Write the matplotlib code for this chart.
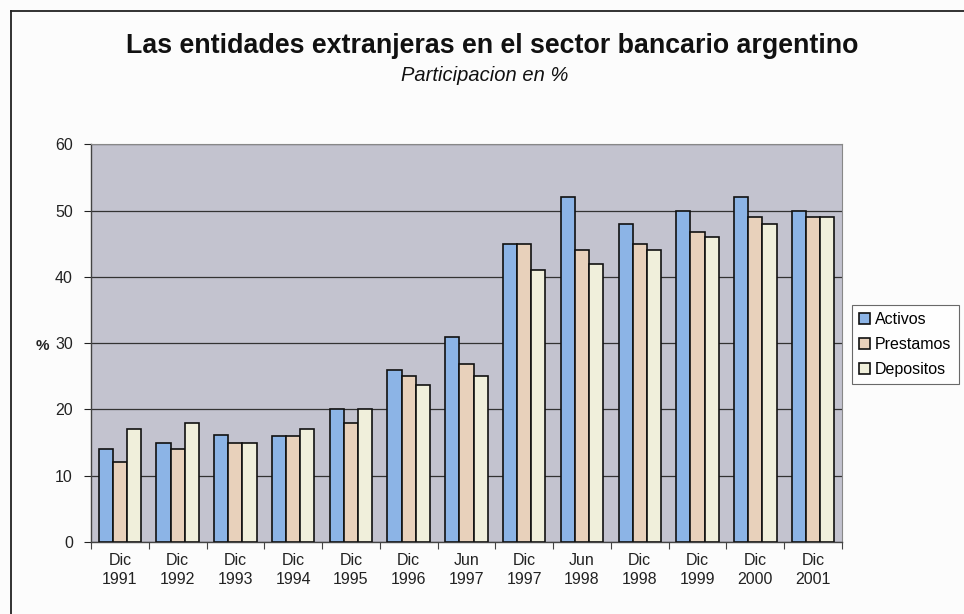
import numpy as np
import matplotlib.pyplot as plt
from matplotlib.lines import Line2D

# Participacion de las entidades extranjeras (%)
periodos = ['Dic\n1991', 'Dic\n1992', 'Dic\n1993', 'Dic\n1994', 'Dic\n1995', 'Dic\n1996',
            'Jun\n1997', 'Dic\n1997', 'Jun\n1998', 'Dic\n1998', 'Dic\n1999', 'Dic\n2000',
            'Dic\n2001']
activos = [14, 15, 16.2, 16, 20, 26, 31, 45, 52, 48, 50, 52, 50]
prestamos = [12, 14, 15, 16, 18, 25, 26.8, 45, 44, 45, 46.8, 49, 49]
depositos = [17, 18, 15, 17, 20, 23.7, 25, 41, 42, 44, 46, 48, 49]

series = [('Activos', activos, '#8cb4e6'),
          ('Prestamos', prestamos, '#e8d1bb'),
          ('Depositos', depositos, '#f0efdb')]

plt.rcParams['font.family'] = ['Liberation Sans', 'DejaVu Sans']

fig = plt.figure(figsize=(9.64, 6.14), dpi=100, facecolor='#fcfcfc')
ax = fig.add_axes([0.0944, 0.1173, 0.779, 0.6474])
ax.set_facecolor('#c3c3cf')

x = np.arange(len(periodos))
ancho = 0.245
for i, (nombre, valores, color) in enumerate(series):
    ax.bar(x + (i - 1) * ancho, valores, ancho, color=color, edgecolor='#111111',
           linewidth=1.2, label=nombre, zorder=3)

ax.set_ylim(0, 60)
ax.set_xlim(-0.5, len(periodos) - 0.5)
ax.set_yticks(range(0, 61, 10))
ax.yaxis.grid(True, color='#333333', linewidth=0.9, zorder=0)
ax.tick_params(axis='y', labelsize=11.5, colors='#222222', length=5, width=0.8, pad=8)

# marcas entre categorias, etiquetas centradas
ax.set_xticks(np.arange(-0.5, len(periodos), 1))
ax.set_xticklabels([])
ax.set_xticks(x, minor=True)
ax.set_xticklabels(periodos, minor=True, fontsize=11.5, color='#222222', linespacing=1.35)
ax.tick_params(axis='x', which='major', length=5, width=0.8, color='#444444')
ax.tick_params(axis='x', which='minor', length=0, pad=8)

for lado in ['top', 'right']:
    ax.spines[lado].set_color('#888888')
    ax.spines[lado].set_linewidth(0.8)
for lado in ['left', 'bottom']:
    ax.spines[lado].set_color('#444444')
    ax.spines[lado].set_linewidth(1.0)

fig.text(0.044, (614 - 346) / 614, '%', fontsize=11, fontweight='bold',
         ha='center', va='center', color='#222222')

fig.text(492.5 / 964, (614 - 53) / 614, 'Las entidades extranjeras en el sector bancario argentino',
         fontsize=19.3, fontweight='bold', ha='center', va='baseline', color='#111111')
fig.text(485 / 964, (614 - 81) / 614, 'Participacion en %', fontsize=14.5, style='italic',
         ha='center', va='baseline', color='#111111')

leg = ax.legend(loc='upper left', bbox_to_anchor=(852 / 964, (614 - 305) / 614),
                bbox_transform=fig.transFigure, fontsize=11.5,
                frameon=True, fancybox=False, edgecolor='#444444', handlelength=0.7,
                handleheight=0.7, handletextpad=0.3, borderpad=0.45, labelspacing=0.62,
                borderaxespad=0)
leg.get_frame().set_linewidth(0.8)

# marco exterior del grafico
fig.add_artist(Line2D([11 / 964, 11 / 964], [0, 1 - 11 / 614], color='#222222', linewidth=1.3))
fig.add_artist(Line2D([11 / 964, 1], [1 - 11 / 614, 1 - 11 / 614], color='#222222', linewidth=1.3))

fig.savefig('out.png', dpi=100, facecolor=fig.get_facecolor())
